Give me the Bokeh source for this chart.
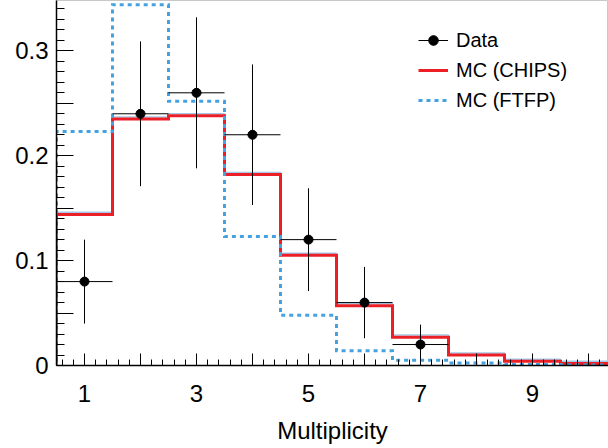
import numpy as np
from bokeh.plotting import figure
from bokeh.models import ColumnDataSource, FixedTicker, Legend, LegendItem, Range1d
from bokeh.embed import file_html
from bokeh.resources import INLINE

# ---------------- data ----------------
bin_centers = [1, 2, 3, 4, 5, 6, 7, 8, 9, 10]
mc_chips = [0.144, 0.235, 0.238, 0.182, 0.105, 0.057, 0.027, 0.010, 0.004, 0.002]
mc_chips_band = [0.146, 0.237, 0.240, 0.184, 0.107, 0.059, 0.029, 0.012, 0.006, 0.004]
mc_ftfp = [0.223, 0.344, 0.252, 0.123, 0.048, 0.014, 0.005, 0.0025, 0.001, 0.0005]
data_x = [1, 2, 3, 4, 5, 6, 7]
data_y = [0.080, 0.240, 0.260, 0.220, 0.120, 0.060, 0.020]
data_err = [0.040, 0.069, 0.072, 0.067, 0.049, 0.034, 0.019]
bin_half_width = 0.5

x_major_ticks = [1, 2, 3, 4, 5, 6, 7, 8, 9, 10]
x_tick_labels = {1: "1", 2: "", 3: "3", 4: "", 5: "5", 6: "", 7: "7", 8: "", 9: "9", 10: ""}
y_major_ticks = [0, 0.05, 0.1, 0.15, 0.2, 0.25, 0.3, 0.35]
y_tick_labels = {0: "0", 0.05: "", 0.1: "0.1", 0.15: "", 0.2: "0.2", 0.25: "", 0.3: "0.3", 0.35: ""}

FONT = "Liberation Sans"


def step_outline(centers, values, half):
    xs, ys = [], []
    first = centers[0] - half
    xs.append(first); ys.append(0.0)
    for c, v in zip(centers, values):
        xs += [c - half, c + half]
        ys += [v, v]
    xs.append(centers[-1] + half); ys.append(0.0)
    return xs, ys


p = figure(frame_width=552, frame_height=365,
           min_border_left=56, min_border_right=0, min_border_top=0, min_border_bottom=83,
           x_range=Range1d(0.5, 0.5 + 552 / 56), y_range=Range1d(0, 0.348),
           output_backend="svg", toolbar_location=None)
p.background_fill_color = "white"
p.border_fill_color = "white"
p.outline_line_color = "#c8c8c8"
p.outline_line_width = 1
p.xgrid.visible = False
p.ygrid.visible = False

# histograms
bx, by = step_outline(bin_centers, mc_chips_band, bin_half_width)
p.line(bx, by, line_color="#a6c8e8", line_width=1.5)
cx, cy = step_outline(bin_centers, mc_chips, bin_half_width)
r_chips = p.line(cx, cy, line_color="#ec1f27", line_width=3, line_join="miter")
fx, fy = step_outline(bin_centers, mc_ftfp, bin_half_width)
r_ftfp = p.line(fx, fy, line_color="#43a2df", line_width=3, line_dash="4 4", line_join="miter")

# data points with error bars
src = ColumnDataSource(dict(
    x=data_x, y=data_y,
    xl=[x - bin_half_width for x in data_x], xr=[x + bin_half_width for x in data_x],
    yl=[y - e for y, e in zip(data_y, data_err)], yh=[y + e for y, e in zip(data_y, data_err)],
))
r_hseg = p.segment(x0="xl", y0="y", x1="xr", y1="y", source=src, line_color="black", line_width=1)
r_vseg = p.segment(x0="x", y0="yl", x1="x", y1="yh", source=src, line_color="black", line_width=1)
r_cross = p.scatter(x="x", y="y", source=src, marker="cross", size=10, line_color="black", line_width=1)
r_dot = p.scatter(x="x", y="y", source=src, marker="circle", size=9, fill_color="black", line_color="black")

# axes
xa = p.xaxis[0]
xa.ticker = FixedTicker(ticks=x_major_ticks,
                        minor_ticks=[round(v, 2) for v in np.arange(0.6, 10.5, 0.2) if abs(v - round(v)) > 1e-6])
xa.major_label_overrides = x_tick_labels
xa.axis_label = "Multiplicity"
ya = p.yaxis[0]
ya.ticker = FixedTicker(ticks=y_major_ticks, minor_ticks=[round(v, 2) for v in np.arange(0.0, 0.35, 0.01)])
ya.major_label_overrides = y_tick_labels

for ax in (xa, ya):
    ax.axis_line_color = "black"
    ax.axis_line_width = 1.5
    ax.major_tick_line_color = "black"
    ax.minor_tick_line_color = "black"
    ax.major_tick_out = 0
    ax.minor_tick_out = 0
    ax.major_label_text_font = FONT
    ax.major_label_text_font_size = "24px"
    ax.major_label_text_color = "black"
    ax.axis_label_text_font = FONT
    ax.axis_label_text_font_size = "24px"
    ax.axis_label_text_font_style = "normal"
    ax.axis_label_text_color = "black"
xa.major_tick_in = 12
xa.minor_tick_in = 6
ya.major_tick_in = 17
ya.minor_tick_in = 8
xa.major_label_standoff = 19
xa.axis_label_standoff = 12
ya.major_label_standoff = 8

legend = Legend(items=[
    LegendItem(label="Data", renderers=[r_hseg, r_cross, r_dot]),
    LegendItem(label="MC (CHIPS)", renderers=[r_chips]),
    LegendItem(label="MC (FTFP)", renderers=[r_ftfp]),
], location=(362, 253))
legend.padding = 0
legend.margin = 0
legend.spacing = 6
legend.label_height = 24
legend.glyph_height = 24
legend.glyph_width = 30
legend.label_standoff = 8
legend.label_text_font = FONT
legend.label_text_font_size = "20px"
legend.label_text_color = "black"
legend.border_line_color = None
legend.background_fill_alpha = 0
p.add_layout(legend)

open("out.html", "w").write(file_html(p, INLINE))
